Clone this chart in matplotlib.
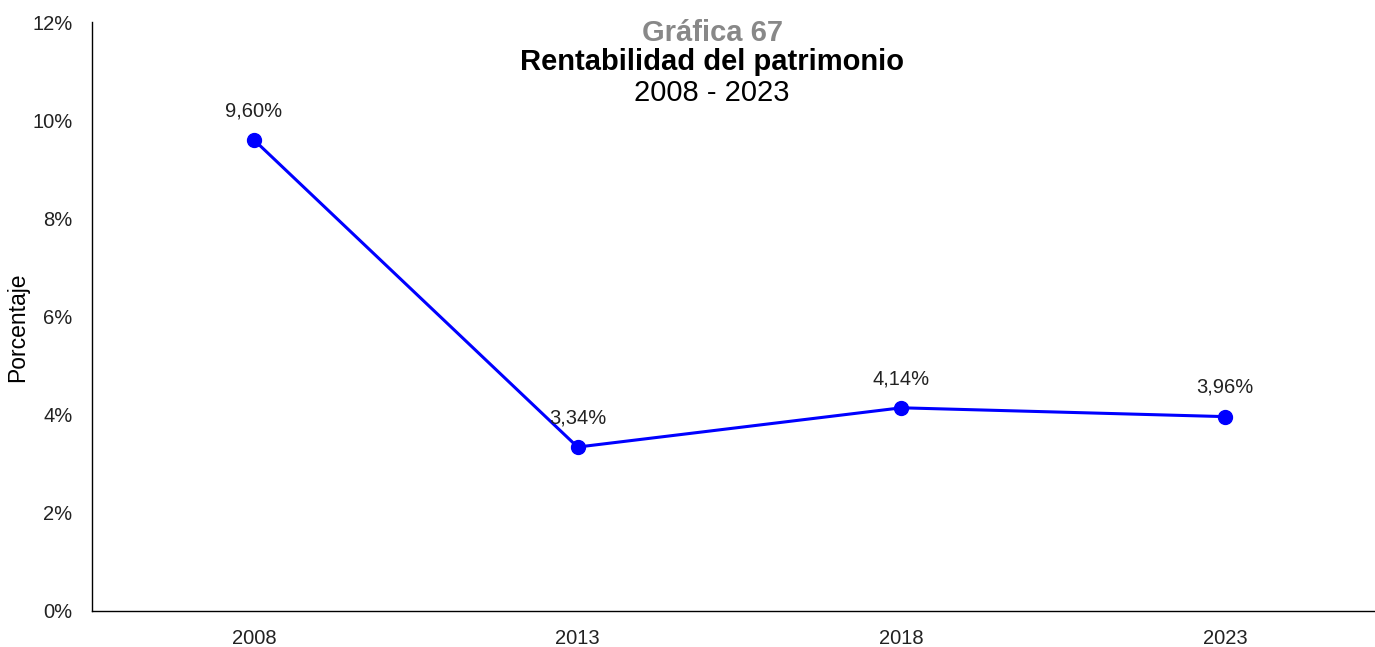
import matplotlib
matplotlib.use("Agg")
import matplotlib.pyplot as plt
from matplotlib.ticker import FuncFormatter

plt.rcParams['font.family'] = ['Liberation Sans', 'DejaVu Sans']

years = ["2008", "2013", "2018", "2023"]
roe = [9.60, 3.34, 4.14, 3.96]
y_ticks = [0, 2, 4, 6, 8, 10, 12]

fig = plt.figure(figsize=(13.75, 6.47), dpi=100)
ax = fig.add_axes([92 / 1375, 1 - 611 / 647, 1 - 92 / 1375, (611 - 22) / 647])

x = list(range(len(years)))
ax.plot(x, roe, color="#0000FF", linewidth=2.2, marker="o", markersize=10,
        markerfacecolor="#0000FF", markeredgecolor="#0000FF", zorder=3)

for xi, v in zip(x, roe):
    ax.annotate(f"{v:.2f}%".replace(".", ","), (xi, v), xytext=(0, 21),
                textcoords="offset points", ha="center", va="center",
                fontsize=14.5, color="#222222")

ax.set_xlim(-0.5, 3.463)
ax.set_ylim(0, 12)
ax.set_xticks(x)
ax.set_xticklabels(years)
ax.set_yticks(y_ticks)
ax.yaxis.set_major_formatter(FuncFormatter(lambda v, p: f"{v:.0f}%"))
ax.tick_params(axis="both", length=0, labelsize=14.5, labelcolor="#222222")
ax.tick_params(axis="x", pad=13)
ax.tick_params(axis="y", pad=14)

for side in ("top", "right"):
    ax.spines[side].set_visible(False)
for side in ("left", "bottom"):
    ax.spines[side].set_color("#000000")
    ax.spines[side].set_linewidth(1.0)

fig.text(18 / 1375, 1 - 327 / 647, "Porcentaje", rotation=90, ha="center",
         va="center", fontsize=16.5, color="#000000")

cx = 712 / 1375
fig.text(cx, 1 - 33 / 647, "Gráfica 67", ha="center", va="center",
         fontsize=21, fontweight="bold", color="#888888")
fig.text(cx, 1 - 62 / 647, "Rentabilidad del patrimonio", ha="center",
         va="center", fontsize=21, fontweight="bold", color="#000000")
fig.text(cx, 1 - 93 / 647, "2008 - 2023", ha="center", va="center",
         fontsize=21, color="#000000")

fig.savefig("out.png", dpi=100, facecolor="white")
